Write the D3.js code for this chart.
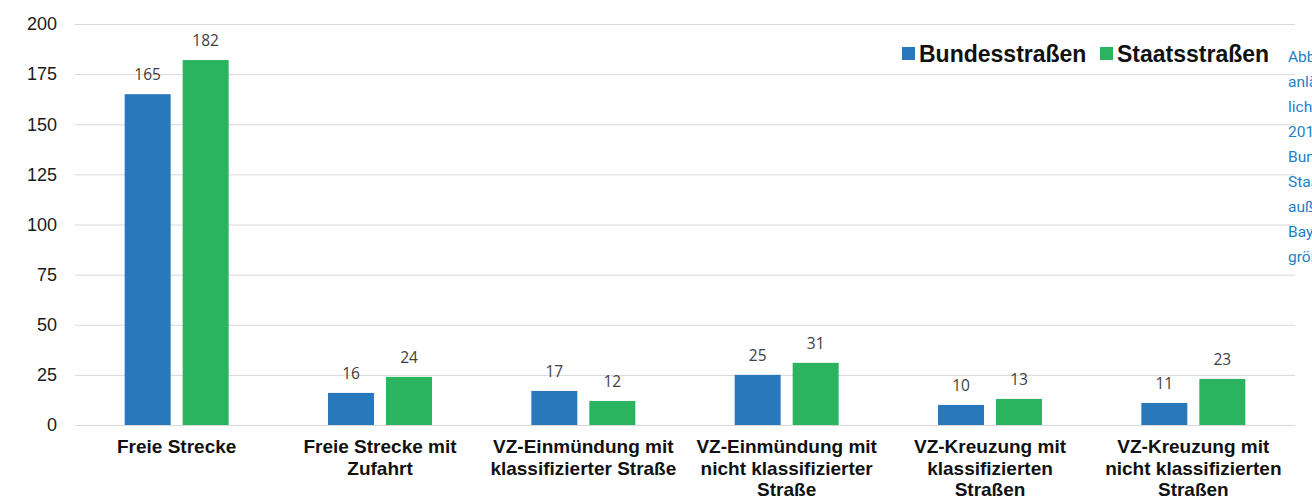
<!DOCTYPE html>
<html>
<head>
<meta charset="utf-8">
<script src="https://cdn.jsdelivr.net/npm/d3@7"></script>
<style>
  html, body { margin: 0; padding: 0; background: #fff; }
  svg { display: block; }
</style>
</head>
<body>
<svg id="chart" width="1312" height="500"></svg>
<script>
// Kategorien (mehrzeilig)
const categories = [
    ['Freie Strecke'],
    ['Freie Strecke mit', 'Zufahrt'],
    ['VZ-Einmündung mit', 'klassifizierter Straße'],
    ['VZ-Einmündung mit', 'nicht klassifizierter', 'Straße'],
    ['VZ-Kreuzung mit', 'klassifizierten', 'Straßen'],
    ['VZ-Kreuzung mit', 'nicht klassifizierten', 'Straßen']
]
const seriesNames = ['Bundesstraßen', 'Staatsstraßen']
const bundes = [165, 16, 17, 25, 10, 11]
const staats = [182, 24, 12, 31, 13, 23]
const yTicks = [0, 25, 50, 75, 100, 125, 150, 175, 200]
// Bildtext rechts, am Rand abgeschnitten wie im Original
const captionLines = ['Abbildung', 'anlässe', 'lich', '2016', 'Bundes', 'Staats', 'außerorts', 'Bayern', 'größer']

const colors = ['#2a78bc', '#2bb45f']

const svg = d3.select('#chart')
const plotLeft = 75, plotRight = 1295, plotTop = 24, plotBottom = 425

const x = d3.scaleBand().domain(d3.range(categories.length)).range([plotLeft, plotRight])
const y = d3.scaleLinear().domain([0, 200]).range([plotBottom, plotTop])
const barW = 46
const barX = k => k === 0 ? -52 : 6

// Gitterlinien
svg.append('g')
    .selectAll('line')
    .data(yTicks)
    .enter()
    .append('line')
    .attr('x1', plotLeft)
    .attr('x2', plotRight)
    .attr('y1', d => y(d) + 0.5)
    .attr('y2', d => y(d) + 0.5)
    .attr('stroke', '#d9d9d9')
    .attr('stroke-width', 1)

// y-Achse
const yAxis = svg.append('g')
    .attr('transform', `translate(${plotLeft},0)`)
    .call(d3.axisLeft(y).tickValues(yTicks).tickSize(0).tickPadding(18))
yAxis.select('.domain').remove()
yAxis.selectAll('text')
    .style('font-family', 'Liberation Sans, Arial, sans-serif')
    .style('font-size', '18px')
    .attr('fill', '#1a1a1a')

// Balken
const data = categories.map((c, i) => ({ i, vals: [bundes[i], staats[i]] }))
const groups = svg.append('g')
    .selectAll('g')
    .data(data)
    .enter()
    .append('g')
    .attr('transform', d => `translate(${x(d.i) + x.bandwidth() / 2},0)`)

groups.selectAll('rect')
    .data(d => d.vals)
    .enter()
    .append('rect')
    .attr('x', (d, k) => barX(k))
    .attr('y', d => y(d))
    .attr('width', barW)
    .attr('height', d => plotBottom - y(d))
    .attr('fill', (d, k) => colors[k])

groups.selectAll('text.val')
    .data(d => d.vals)
    .enter()
    .append('text')
    .attr('class', 'val')
    .attr('x', (d, k) => barX(k) + barW / 2)
    .attr('y', d => y(d) - 14)
    .attr('text-anchor', 'middle')
    .style('font-family', 'Open Sans, sans-serif')
    .style('font-size', '15.5px')
    .attr('fill', '#404040')
    .text(d => d)

// Kategorie-Beschriftungen
const catLabels = svg.append('g')
    .selectAll('text')
    .data(categories)
    .enter()
    .append('text')
    .attr('x', (d, i) => x(i) + x.bandwidth() / 2)
    .attr('y', 453)
    .attr('text-anchor', 'middle')
    .style('font-family', 'Liberation Sans, Arial, sans-serif')
    .style('font-size', '19px')
    .style('font-weight', 'bold')
    .attr('fill', '#111')
catLabels.selectAll('tspan')
    .data(d => d)
    .enter()
    .append('tspan')
    .attr('x', function () { return d3.select(this.parentNode).attr('x') })
    .attr('dy', (d, k) => k === 0 ? 0 : 21.7)
    .text(d => d)

// Legende
const legendX = [902, 1100]
const legend = svg.append('g')
seriesNames.forEach((name, k) => {
    legend.append('rect')
        .attr('x', legendX[k])
        .attr('y', 47)
        .attr('width', 13)
        .attr('height', 13)
        .attr('fill', colors[k])
    legend.append('text')
        .attr('x', legendX[k] + 17)
        .attr('y', 62)
        .style('font-family', 'Liberation Sans, Arial, sans-serif')
        .style('font-size', '23px')
        .style('font-weight', 'bold')
        .attr('fill', '#111')
        .text(name)
})

// Bildunterschrift rechts
svg.append('g')
    .selectAll('text')
    .data(captionLines)
    .enter()
    .append('text')
    .attr('x', 1288)
    .attr('y', (d, i) => 62 + i * 25)
    .style('font-family', 'Roboto, sans-serif')
    .style('font-size', '15.5px')
    .attr('fill', '#1b82c8')
    .text(d => d)
</script>
</body>
</html>
